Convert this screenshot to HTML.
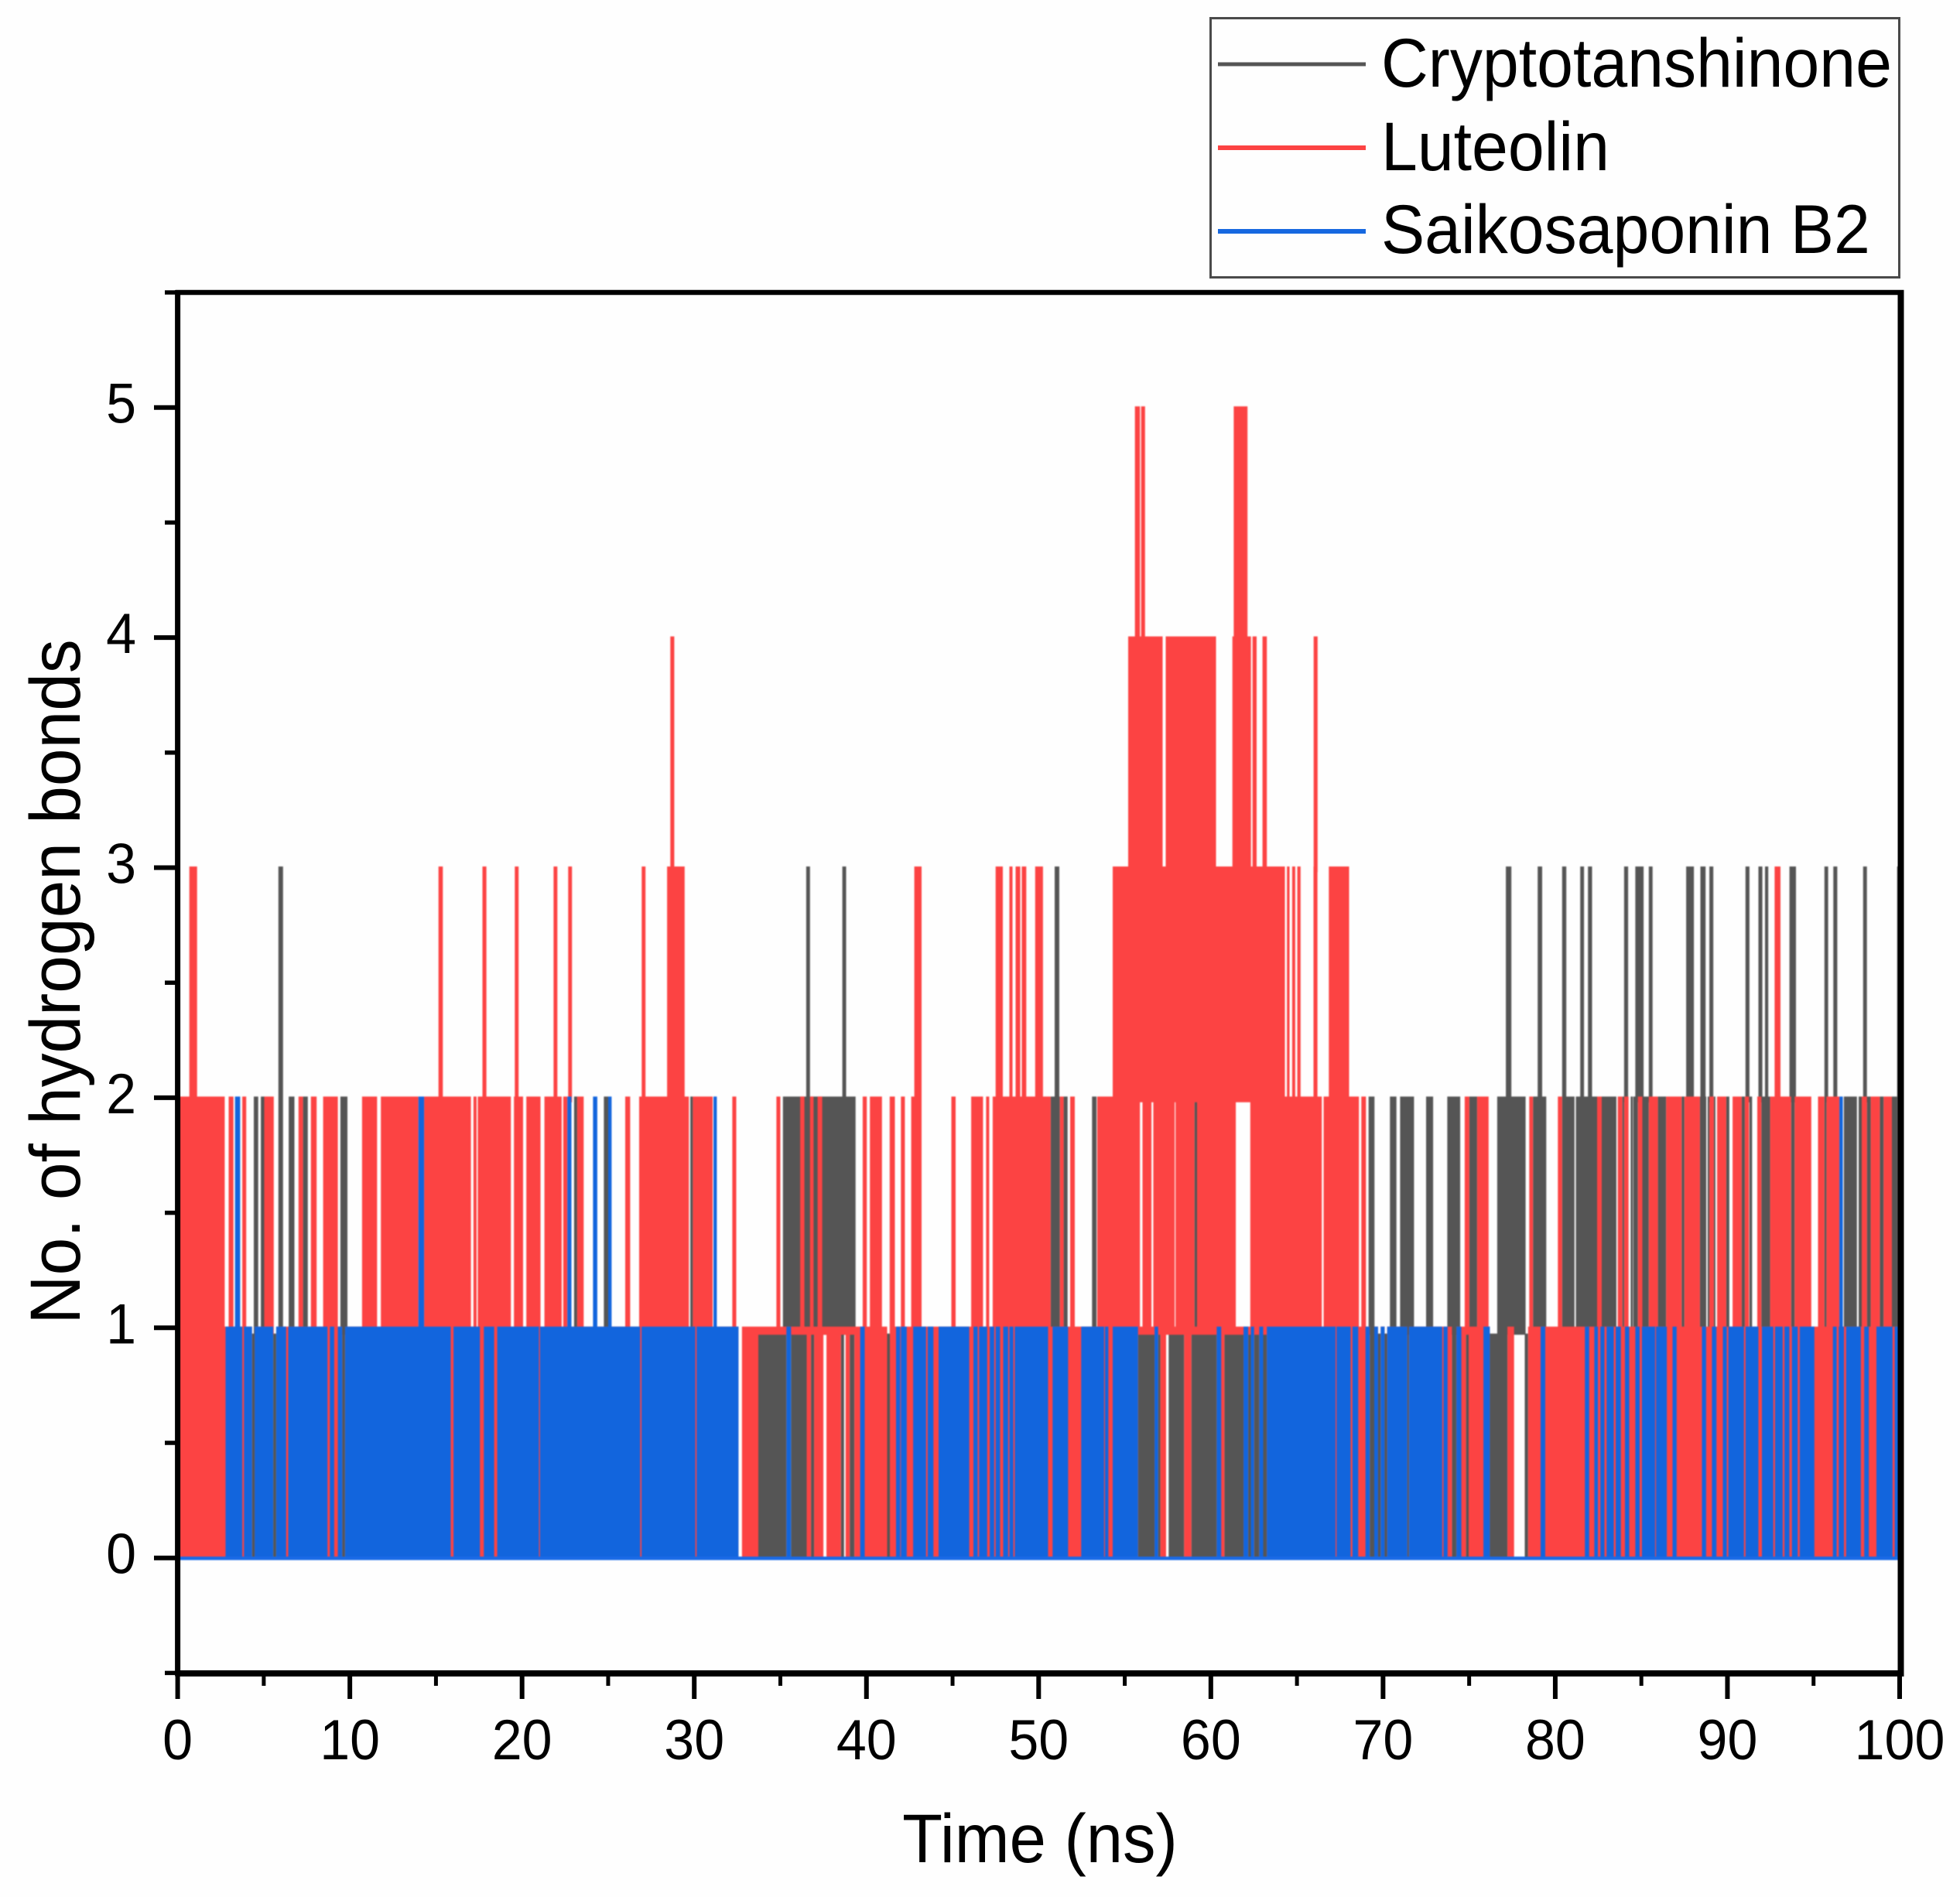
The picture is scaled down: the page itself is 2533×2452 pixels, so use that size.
<!DOCTYPE html>
<html lang="en">
<head>
<meta charset="utf-8">
<title>No. of hydrogen bonds over time</title>
<style>
  html, body { margin: 0; padding: 0; background: #fefefe; }
  svg { display: block; font-family: "Liberation Sans", Arial, sans-serif; fill: #000; }
</style>
</head>
<body>
<svg id="chart" xmlns="http://www.w3.org/2000/svg" width="2533" height="2452" viewBox="0 0 2533 2452">
  <defs>
    <filter id="soft" filterUnits="userSpaceOnUse" x="200" y="350" width="2300" height="1700" color-interpolation-filters="sRGB">
      <feGaussianBlur stdDeviation="0.7"/>
    </filter>
  </defs>
  <rect x="0" y="0" width="2533" height="2452" fill="#fefefe"/>
  <g id="marks" filter="url(#soft)"></g>
  <g id="axes"></g>

  <text transform="translate(1344,2407) scale(1,1.05)" font-size="85" text-anchor="middle">Time (ns)</text>
  <text transform="translate(103,1269) rotate(-90) scale(1,1.05)" font-size="87.5" text-anchor="middle">No. of hydrogen bonds</text>

  <g>
    <rect x="1564.5" y="23.5" width="890" height="335" fill="#fefefe" stroke="#4a4a4a" stroke-width="3"/>
    <line x1="1574" y1="83" x2="1765" y2="83" stroke="#555555" stroke-width="5"/>
    <text transform="translate(1785,112) scale(1,1.06)" font-size="84.2">Cryptotanshinone</text>
    <line x1="1574" y1="191" x2="1765" y2="191" stroke="#fc4343" stroke-width="6"/>
    <text transform="translate(1785,220) scale(1,1.06)" font-size="84.2">Luteolin</text>
    <line x1="1574" y1="299" x2="1765" y2="299" stroke="#1668e0" stroke-width="6"/>
    <text transform="translate(1785,327) scale(1,1.06)" font-size="84.2">Saikosaponin B2</text>
  </g>
</svg>
<script>
// Tick values and labels
const xTickValues = [0, 10, 20, 30, 40, 50, 60, 70, 80, 90, 100];
const xMinorTickValues = [5, 15, 25, 35, 45, 55, 65, 75, 85, 95];
const yTickValues = [0, 1, 2, 3, 4, 5];
const yMinorTickValues = [-0.5, 0.5, 1.5, 2.5, 3.5, 4.5, 5.5];

// Time spans (ns) during which each series sweeps across a given range of bond counts.
const cryptoBand0to1 = [[4.32,4.47],[5.55,5.72],[9.56,9.72],[33.72,35.35],[35.62,36.53],[36.78,36.96],[38.52,38.7],[39.03,39.3],[41.2,41.36],[55.77,56.73],[56.94,57.07],[57.55,58.45],[58.87,60.34],[60.79,61.9],[62.17,62.32],[62.51,62.81],[63.04,63.25],[69.23,69.49],[69.71,69.86],[70.09,70.24],[71.41,71.5],[74.0,74.26],[74.82,74.97],[76.2,77.22],[78.23,78.42]];
const cryptoBand1to2 = [[4.42,4.68],[4.83,5.04],[5.85,6.12],[6.45,6.78],[7.28,7.56],[9.45,9.86],[23.02,23.2],[24.75,25.0],[29.77,29.92],[35.15,39.37],[50.7,51.23],[51.45,51.68],[53.1,53.36],[59.05,59.2],[69.16,69.5],[70.4,70.78],[70.99,71.8],[72.5,72.91],[73.73,74.48],[75.01,75.46],[76.63,78.28],[78.71,79.48],[80.4,81.12],[81.2,82.43],[82.7,83.55],[83.9,84.0],[84.38,84.5],[84.53,84.8],[85.06,85.43],[85.96,86.44],[87.34,87.5],[88.4,88.77],[88.85,88.95],[89.21,89.3],[89.93,90.11],[90.83,91.01],[91.28,91.43],[91.97,92.48],[93.7,93.9],[95.63,95.75],[96.76,97.52],[97.62,97.8],[98.1,98.32],[98.85,99.07],[99.55,100]];
const cryptoBand2to3 = [[5.85,6.12],[36.5,36.72],[38.6,38.82],[50.93,51.2],[77.13,77.45],[78.98,79.24],[80.4,80.64],[81.45,81.67],[81.9,82.14],[84.0,84.23],[84.65,85.13],[85.43,85.65],[87.6,88.05],[88.43,88.73],[88.95,89.18],[91.05,91.28],[91.8,92.03],[92.18,92.37],[93.6,93.98],[95.63,95.85],[96.15,96.38],[97.88,98.1],[99.85,100]];

const luteolinBand0to1 = [[0,4.32],[4.47,5.5],[5.75,9.56],[9.72,32.57],[32.77,33.72],[35.35,35.59],[36.53,36.78],[36.96,37.5],[37.68,38.52],[38.79,39.03],[39.3,41.2],[41.36,55.77],[56.73,56.94],[57.07,57.4],[58.45,58.87],[60.34,60.79],[61.9,62.17],[62.32,62.51],[62.81,63.04],[63.25,69.23],[69.49,69.71],[69.86,70.09],[70.24,71.41],[71.5,74.0],[74.26,74.82],[74.97,76.2],[77.22,77.61],[78.42,100]];
const luteolinNearOne = [[33.45,39.4],[55.77,63.2]];
const luteolinBand1to2 = [[0,2.73],[2.96,3.24],[3.75,3.98],[5.03,5.58],[7.02,7.28],[7.74,8.07],[8.45,9.3],[10.71,11.58],[11.8,13.98],[14.31,17.03],[17.18,17.36],[17.43,19.35],[19.53,20.06],[20.25,21.07],[21.3,22.3],[22.39,22.63],[23.2,23.58],[25.99,26.28],[26.8,29.69],[29.92,31.07],[32.21,32.44],[34.77,35.0],[36.15,36.4],[36.72,36.93],[37.16,37.43],[39.78,40.02],[40.2,40.9],[41.35,41.65],[42.0,42.23],[42.6,43.2],[44.93,45.18],[46.08,46.77],[46.95,47.13],[47.33,50.7],[51.23,51.45],[51.83,52.1],[53.4,55.88],[56.03,56.55],[56.66,57.9],[57.95,59.05],[59.2,61.45],[62.29,66.44],[66.55,68.6],[68.74,69.01],[74.74,75.01],[75.46,76.13],[78.49,78.71],[80.15,80.4],[82.43,82.7],[83.63,83.9],[84.0,84.26],[84.8,85.06],[85.43,85.96],[86.44,87.34],[87.5,88.4],[88.95,89.21],[89.4,89.93],[90.3,90.83],[91.01,91.25],[91.73,91.97],[92.48,93.7],[93.9,94.87],[95.26,95.63],[95.75,96.5],[97.8,98.1],[98.32,98.85],[99.07,99.55]];
const luteolinBand2to3 = [[0.68,1.13],[15.15,15.4],[17.7,17.93],[19.58,19.8],[21.83,22.05],[22.68,22.9],[26.95,27.17],[28.42,29.44],[42.78,43.2],[47.5,47.92],[48.3,48.48],[48.66,48.93],[49.02,49.28],[49.8,50.25],[54.3,64.3],[64.42,64.57],[64.72,64.9],[65.02,65.21],[65.96,66.19],[66.85,68.03],[92.74,93.08]];
const luteolinBand3to4 = [[28.61,28.84],[55.2,57.2],[57.38,60.3],[61.25,62.33],[62.42,62.66],[63.0,63.25],[65.97,66.2]];
const luteolinBand4to5 = [[55.59,55.88],[55.95,56.18],[61.33,62.13]];

const saikoBand0to1 = [[2.78,3.75],[3.85,4.32],[4.47,5.55],[5.72,6.3],[6.42,8.7],[8.84,9.09],[9.3,9.56],[9.72,15.86],[16.02,17.55],[17.78,18.38],[18.56,20.98],[21.04,26.86],[26.94,30.06],[30.14,32.57],[35.35,35.62],[39.64,39.9],[41.72,41.96],[42.0,42.34],[42.71,43.46],[43.55,43.89],[44.19,45.97],[46.21,46.46],[46.54,47.01],[47.16,47.42],[47.5,47.76],[47.94,48.23],[48.3,48.53],[48.61,50.55],[50.81,51.71],[52.47,53.8],[53.85,54.05],[54.3,55.77],[56.73,56.94],[60.34,60.6],[61.9,62.17],[62.32,62.51],[62.81,63.04],[63.25,67.24],[67.3,68.12],[68.22,68.56],[68.98,69.23],[69.49,69.71],[69.86,70.09],[70.24,71.41],[71.5,73.44],[73.51,73.75],[74.26,74.55],[75.83,76.2],[79.15,79.42],[81.72,81.97],[82.27,82.48],[82.62,82.86],[82.98,83.4],[83.51,83.81],[84.05,84.3],[84.65,84.9],[85.03,85.8],[85.85,86.48],[86.81,87.05],[88.52,88.76],[89.1,89.36],[89.73,89.96],[90.05,90.96],[91.05,91.8],[92.0,92.66],[92.76,93.21],[93.31,93.6],[93.74,94.08],[94.2,95.05],[96.12,96.34],[96.46,96.77],[96.89,97.75],[97.94,98.21],[98.65,99.59],[99.71,100]];
const saikoBand1to2 = [[3.33,3.63],[13.98,14.31],[22.63,22.87],[24.12,24.37],[25.0,25.2],[31.12,31.31],[96.5,96.7]];

// Axis functions
function xScale(t) { return 229.6 + t * 22.254; }
function yScale(v) { return 2013.7 - v * 297.4; }

const SVG_NS = 'http://www.w3.org/2000/svg';
const marks = document.getElementById('marks');
const axes = document.getElementById('axes');

function spanPath(spans, low, high) {
  let d = '';
  const top = yScale(high) - 1.5;
  const bottom = yScale(low);
  for (const s of spans) {
    const x0 = xScale(s[0]).toFixed(1);
    const x1 = xScale(s[1]).toFixed(1);
    d += 'M' + x0 + ' ' + bottom.toFixed(1) + 'H' + x1 + 'V' + top.toFixed(1) + 'H' + x0 + 'Z';
  }
  return d;
}

function addSeriesPath(d, color) {
  const p = document.createElementNS(SVG_NS, 'path');
  p.setAttribute('d', d);
  p.setAttribute('fill', color);
  marks.appendChild(p);
  return p;
}

const cryptoPath = addSeriesPath(
  spanPath(cryptoBand0to1, 0, 0.97) + spanPath(cryptoBand1to2, 0.97, 2) + spanPath(cryptoBand2to3, 1.98, 3),
  '#555555');



const luteolinPath = addSeriesPath(
  spanPath(luteolinBand0to1, 0, 1) + spanPath(luteolinNearOne, 0.97, 1) + spanPath(luteolinBand1to2, 0.97, 2) +
  spanPath(luteolinBand2to3, 1.98, 3) + spanPath(luteolinBand3to4, 2.98, 4) + spanPath(luteolinBand4to5, 3.98, 5),
  '#fc4343');



const saikoPath = addSeriesPath(
  spanPath(saikoBand0to1, 0, 1) + spanPath(saikoBand1to2, 1, 2),
  '#1265dd');



const saikoBaseline = document.createElementNS(SVG_NS, 'line');
saikoBaseline.setAttribute('x1', xScale(0));
saikoBaseline.setAttribute('x2', xScale(100));
saikoBaseline.setAttribute('y1', yScale(0) + 0.5);
saikoBaseline.setAttribute('y2', yScale(0) + 0.5);
saikoBaseline.setAttribute('stroke', '#1a6ae6');
saikoBaseline.setAttribute('stroke-width', '4.5');


marks.appendChild(saikoBaseline);

function makeLine(x1, y1, x2, y2, w) {
  const l = document.createElementNS(SVG_NS, 'line');
  l.setAttribute('x1', x1);
  l.setAttribute('y1', y1);
  l.setAttribute('x2', x2);
  l.setAttribute('y2', y2);
  l.setAttribute('stroke', '#000');
  l.setAttribute('stroke-width', w);
  axes.appendChild(l);
  return l;
}

const frameLeft = makeLine(229.6, 375, 229.6, 2166.5, 7);


const frameRight = makeLine(2456.5, 375, 2456.5, 2166.5, 8);


const frameTop = makeLine(226.6, 378, 2460.5, 378, 6.5);


const frameBottom = makeLine(226.6, 2163, 2460.5, 2163, 8);



for (const v of xTickValues) {
  const px = xScale(v);
  const tick = makeLine(px, 2163, px, 2196, 6);
  
  
  const label = document.createElementNS(SVG_NS, 'text');
  label.setAttribute('transform', 'translate(' + px + ',2274) scale(1,1.05)');
  label.setAttribute('font-size', '70');
  label.setAttribute('text-anchor', 'middle');
  label.textContent = String(v);
  
  
  axes.appendChild(label);
}
for (const v of xMinorTickValues) {
  const px = xScale(v);
  const tick = makeLine(px, 2163, px, 2179, 5);
  
  
}
for (const v of yTickValues) {
  const py = yScale(v);
  const tick = makeLine(199, py, 229, py, 6);
  
  
  const label = document.createElementNS(SVG_NS, 'text');
  label.setAttribute('transform', 'translate(176,' + (py + 20) + ') scale(1,1.05)');
  label.setAttribute('font-size', '70');
  label.setAttribute('text-anchor', 'end');
  label.textContent = String(v);
  
  
  axes.appendChild(label);
}
for (const v of yMinorTickValues) {
  const py = yScale(v);
  const tick = makeLine(213, py, 229, py, 5.5);
  
  
}
</script>
</body>
</html>
